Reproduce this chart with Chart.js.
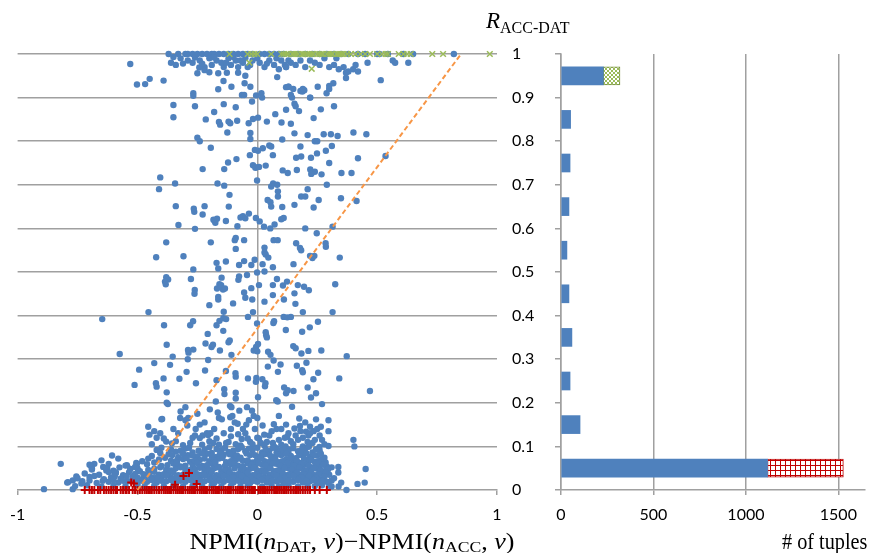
<!DOCTYPE html>
<html>
<head>
<meta charset="utf-8">
<script src="https://cdn.jsdelivr.net/npm/chart.js@4.4.1/dist/chart.umd.min.js"></script>
<style>
  html, body { margin: 0; padding: 0; background: #fff; }
  #wrap { position: relative; width: 870px; height: 553px; overflow: hidden; }
  #scatter { position: absolute; left: 0; top: 0; }
  #bars { position: absolute; left: 545px; top: 0; }
  .ttl { position: absolute; white-space: nowrap; font-family: "Liberation Serif", "DejaVu Serif", serif; color: #000; line-height: 1; }
  .ttl sub { font-size: 0.68em; vertical-align: -0.22em; line-height: 0; }
  .ttl i { font-style: italic; }
</style>
</head>
<body>
<div id="wrap">
  <canvas id="scatter" width="545" height="553"></canvas>
  <canvas id="bars" width="325" height="553"></canvas>
  <div class="ttl" id="xTitle" style="left:352px; top:530px; font-size:23px; transform:translateX(-50%) scaleX(1.13);">NPMI(<i>n</i><sub>DAT</sub>, <i>v</i>)−NPMI(<i>n</i><sub>ACC</sub>, <i>v</i>)</div>
  <div class="ttl" id="cTitle" style="left:782px; top:530px; font-size:23px; transform:scaleX(0.88); transform-origin:0 0;"># of tuples</div>
  <div class="ttl" id="yTitle" style="left:486px; top:9px; font-size:23px;"><i>R</i><sub style="font-size:16px; vertical-align:-5px;">ACC-DAT</sub></div>
</div>
<script>
(function () {
  "use strict";

  // ---- data ----
  var xTicks = [-1, -0.5, 0, 0.5, 1];
  var rTicks = [0, 0.1, 0.2, 0.3, 0.4, 0.5, 0.6, 0.7, 0.8, 0.9, 1];

  // tuples with 0 < R < 1 (blue dots), [npmi diff, R]
  var blueTop = [
    [-0.37,1],[-0.33,1],[-0.3,1],[-0.29,1],[-0.27,1],[-0.25,1],[-0.23,1],[-0.21,1],[-0.19,1],[-0.18,1],[-0.16,1],[-0.14,1],[-0.12,1],[-0.1,1],[-0.08,1],[-0.06,1],[-0.04,1],[-0.02,1],[0.01,1],[0.03,1],[0.05,1],[0.07,1],[0.09,1],[0.11,1],[0.14,1],[0.17,1],[0.2,1],[0.23,1],[0.26,1],[0.29,1],[0.32,1],[0.35,1],[0.38,1],[0.42,1],[0.45,1],[0.5,1],[0.51,1],[0.545,1],[0.61,1],[0.65,1],[0.82,1],
    [-0.36,0.98],[-0.34,0.975],[-0.32,0.99],[-0.29,0.985],[-0.27,0.98],[-0.24,0.985],[-0.22,0.97],[-0.2,0.99],[-0.19,0.975],[-0.17,0.985],[-0.15,0.98],[-0.14,0.97],[-0.12,0.99],[-0.11,0.975],[-0.09,0.985],[-0.08,0.97],[-0.06,0.98],[-0.05,0.99],[-0.03,0.975],[-0.02,0.985],[0.01,0.98],[0.03,0.97],[0.05,0.985],[0.07,0.975],[0.09,0.965],[0.1,0.985],[0.12,0.97],[0.14,0.98],[0.16,0.975],[0.18,0.985],[0.2,0.97],[0.24,0.98],[0.26,0.975],[0.28,0.99],[0.3,0.97],[0.32,0.975],[0.34,0.965],[0.36,0.97],[0.38,0.96],[0.4,0.965],[0.42,0.96],[0.46,0.98],[0.565,0.985],[0.575,0.98],[0.63,0.98],
    [-0.53,0.977],[-0.502,0.93],[-0.468,0.931],[-0.449,0.943],[-0.391,0.939],[-0.25,0.956],[-0.22,0.963],[-0.242,0.969],[-0.2,0.958],[-0.163,0.919],[-0.163,0.956],[-0.141,0.938],[-0.127,0.957],[-0.108,0.925],[-0.08,0.957],[-0.064,0.906],[-0.055,0.906],[-0.053,0.933],[-0.05,0.95],[-0.029,0.925],[-0.005,0.905],[0.017,0.91],[0.02,0.9],[0.083,0.947],[0.12,0.924],[0.13,0.925],[0.14,0.906],[0.188,0.914],[0.196,0.917],[0.221,0.9],[0.252,0.925],[0.289,0.91],[0.3,0.92],[0.317,0.933],[0.37,0.957],[0.37,0.945],[0.515,0.94],[-0.267,0.91],[-0.267,0.904],[0.115,0.975],[0.12,0.97],[0.15,0.92],[0.145,0.9],[0.18,0.915],[0.19,0.92],[0.22,0.9],[0.3,0.927],
    [-0.35,0.993],[-0.31,0.978],[-0.26,0.992],[-0.23,0.978],[-0.18,0.992],[-0.13,0.98],[-0.1,0.993],[-0.07,0.985],[-0.04,0.97],[0.0,0.99],[0.04,0.978],[0.08,0.99],[0.13,0.985],[0.22,0.985],[0.33,0.99],[0.41,0.975]
  ];
  var blueMid = [
    [-0.35,0.883],[-0.35,0.855],[-0.26,0.88],[-0.215,0.85],[-0.18,0.867],[-0.16,0.844],[-0.155,0.838],[-0.14,0.885],[-0.125,0.82],[-0.12,0.845],[-0.113,0.841],[-0.09,0.878],[-0.084,0.847],[-0.036,0.841],[-0.029,0.819],[-0.029,0.805],[-0.022,0.891],[-0.018,0.851],[0.003,0.854],[0.04,0.845],[0.075,0.862],[0.101,0.843],[0.104,0.804],[0.12,0.872],[0.14,0.84],[0.155,0.818],[0.155,0.886],[0.16,0.88],[0.174,0.869],[0.21,0.814],[0.235,0.853],[0.265,0.873],[0.277,0.816],[0.307,0.816],[0.32,0.88],[0.335,0.812],[0.401,0.82],[0.455,0.816],[-0.25,0.808],[-0.24,0.8],[0.24,0.8],[0.25,0.8],[0.13,0.925],
    [-0.194,0.785],[-0.122,0.751],[-0.087,0.759],[-0.031,0.768],[-0.01,0.78],[0.003,0.778],[-0.018,0.745],[-0.003,0.74],[0.023,0.784],[0.035,0.744],[0.05,0.79],[0.058,0.788],[0.065,0.768],[0.162,0.762],[0.18,0.788],[0.183,0.765],[0.224,0.762],[0.249,0.772],[0.286,0.778],[0.3,0.75],[0.311,0.789],[0.42,0.761],[0.535,0.766],[-0.228,0.736],[-0.138,0.736],[-0.008,0.739],[0.007,0.741],[0.106,0.733],[0.127,0.727],[0.165,0.734],[0.221,0.735],[0.24,0.73],[0.225,0.725],[0.268,0.724],[0.351,0.727],[0.393,0.727],[-0.405,0.717],[-0.343,0.703],[-0.166,0.703],[-0.001,0.71],[0.066,0.703],[0.083,0.7],[0.29,0.7],
    [-0.41,0.69],[-0.138,0.698],[0.058,0.696],[0.086,0.685],[0.086,0.673],[0.21,0.69],[-0.116,0.677],[-0.34,0.651],[-0.263,0.638],[-0.265,0.645],[-0.22,0.651],[-0.228,0.632],[-0.178,0.617],[-0.175,0.613],[-0.168,0.622],[-0.183,0.62],[-0.119,0.65],[-0.131,0.617],[-0.06,0.628],[-0.07,0.625],[-0.05,0.623],[-0.035,0.634],[-0.083,0.605],[-0.006,0.624],[0.01,0.616],[0.028,0.604],[0.043,0.665],[0.055,0.66],[0.058,0.65],[0.054,0.6],[0.072,0.609],[0.1,0.621],[0.11,0.624],[0.104,0.649],[0.155,0.654],[0.183,0.673],[0.2,0.673],[0.235,0.648],[0.256,0.665],[0.349,0.669],[0.414,0.663],[0.2,0.6],[0.314,0.604],[-0.329,0.608],[-0.26,0.599],
    [-0.38,0.568],[-0.422,0.534],[-0.308,0.536],[-0.194,0.568],[-0.094,0.573],[-0.09,0.578],[-0.09,0.553],[-0.055,0.573],[0.03,0.556],[0.03,0.545],[0.035,0.54],[0.046,0.533],[0.068,0.573],[0.085,0.573],[0.162,0.566],[0.178,0.555],[0.183,0.55],[0.22,0.537],[0.23,0.532],[0.238,0.537],[0.248,0.589],[0.285,0.566],[0.286,0.558],[0.344,0.533],[-0.17,0.521],[-0.131,0.524],[-0.076,0.516],[-0.055,0.525],[-0.025,0.516],[-0.011,0.528],[0.022,0.518],[0.065,0.511],[0.151,0.518],[-0.163,0.508],[-0.267,0.506],
    [-0.38,0.488],[-0.372,0.483],[-0.385,0.478],[-0.382,0.472],[-0.277,0.484],[-0.261,0.459],[-0.262,0.45],[-0.149,0.487],[-0.168,0.462],[-0.158,0.472],[-0.151,0.47],[-0.143,0.46],[-0.135,0.462],[-0.163,0.443],[-0.163,0.437],[-0.079,0.482],[-0.076,0.49],[-0.043,0.493],[-0.055,0.453],[-0.05,0.441],[-0.025,0.463],[-0.021,0.437],[-0.001,0.499],[0.03,0.501],[0.007,0.47],[0.065,0.47],[0.082,0.484],[0.107,0.469],[0.124,0.478],[0.065,0.447],[0.03,0.432],[0.111,0.437],[0.155,0.451],[0.169,0.47],[0.195,0.466],[0.215,0.458],[0.159,0.427],[0.325,0.472],[-0.2,0.424],[-0.101,0.428],[-0.454,0.408],[-0.14,0.409],[-0.018,0.408],[0.19,0.408],[0.314,0.408]
  ];
  var blueLow = [
    [-0.647,0.392],[-0.389,0.378],[-0.28,0.378],[-0.268,0.387],[-0.17,0.378],[-0.158,0.388],[-0.142,0.394],[-0.13,0.392],[-0.207,0.358],[-0.142,0.365],[-0.12,0.339],[-0.115,0.343],[-0.108,0.31],[-0.156,0.32],[-0.191,0.328],[-0.185,0.333],[-0.216,0.336],[-0.289,0.321],[-0.287,0.315],[-0.267,0.322],[-0.378,0.333],[-0.353,0.306],[-0.574,0.312],[-0.039,0.397],[-0.001,0.382],[-0.015,0.32],[-0.005,0.328],[0.0,0.318],[0.003,0.335],[0.037,0.355],[0.035,0.362],[0.04,0.35],[0.067,0.383],[0.07,0.387],[0.11,0.397],[0.125,0.396],[0.14,0.397],[0.119,0.367],[0.187,0.363],[0.219,0.373],[0.253,0.386],[0.15,0.33],[0.16,0.325],[0.184,0.313],[0.213,0.319],[0.267,0.32],[0.373,0.307],[0.045,0.317],[0.055,0.31],[0.068,0.297],
    [-0.493,0.276],[-0.512,0.241],[-0.43,0.291],[-0.423,0.245],[-0.42,0.237],[-0.391,0.256],[-0.378,0.224],[-0.364,0.287],[-0.325,0.255],[-0.295,0.271],[-0.29,0.3],[-0.256,0.245],[-0.218,0.274],[-0.205,0.298],[-0.17,0.252],[-0.138,0.231],[-0.137,0.22],[-0.131,0.273],[-0.091,0.268],[-0.09,0.26],[-0.09,0.223],[-0.09,0.21],[-0.039,0.256],[-0.004,0.257],[-0.006,0.248],[0.003,0.213],[0.032,0.238],[0.034,0.245],[0.021,0.254],[0.044,0.283],[0.086,0.271],[0.097,0.288],[0.112,0.235],[0.12,0.222],[0.127,0.229],[0.079,0.206],[0.085,0.203],[0.151,0.227],[0.165,0.285],[0.187,0.275],[0.19,0.27],[0.205,0.292],[0.21,0.235],[0.224,0.212],[0.234,0.254],[0.245,0.222],[0.254,0.269],[0.342,0.256],[0.47,0.227],[-0.373,0.197],[-0.114,0.193],[-0.108,0.19],[0.27,0.197],[0.145,0.191],[-0.378,0.2],
    [-0.32,0.18],[-0.322,0.165],[-0.397,0.163],[-0.288,0.165],[-0.292,0.148],[-0.257,0.14],[-0.198,0.185],[-0.173,0.203],[-0.165,0.178],[-0.16,0.165],[-0.148,0.162],[-0.113,0.167],[-0.104,0.17],[-0.094,0.155],[-0.082,0.152],[-0.075,0.182],[-0.043,0.19],[-0.022,0.182],[-0.015,0.17],[0.0,0.165],[-0.046,0.15],[-0.06,0.14],[0.0,0.12],[0.007,0.118],[0.022,0.148],[0.029,0.127],[0.069,0.151],[0.115,0.12],[0.125,0.122],[0.155,0.141],[0.175,0.164],[0.178,0.147],[0.203,0.134],[0.213,0.125],[0.22,0.13],[0.245,0.162],[0.297,0.16],[0.297,0.135],[0.297,0.101],[0.401,0.115],[0.405,0.1],[-0.455,0.145],[-0.45,0.127],[-0.38,0.111],[-0.405,0.13],[-0.356,0.107],[-0.24,0.119],[-0.228,0.125],[-0.205,0.126],[-0.196,0.13],[-0.184,0.108],[-0.08,0.128],[-0.065,0.117],[-0.05,0.13],[-0.3,0.19],[-0.27,0.12],[-0.25,0.175],[-0.22,0.155],[-0.14,0.13],[-0.12,0.11],[-0.03,0.11],[0.04,0.11],[0.06,0.135],[0.09,0.17],[0.1,0.14],[0.14,0.112],[0.16,0.125],[0.23,0.108],[0.27,0.115],[0.25,0.14],[-0.33,0.13],[-0.35,0.14],[-0.42,0.12],[-0.43,0.135],[-0.4,0.162],
    [-0.44,0.105],[-0.39,0.118],[-0.34,0.112],[-0.31,0.103],[-0.28,0.108],[-0.26,0.125],[-0.23,0.104],[-0.2,0.112],[-0.17,0.118],[-0.16,0.104],[-0.13,0.108],[-0.11,0.123],[-0.09,0.105],[-0.07,0.102],[-0.04,0.118],[-0.02,0.105],[0.015,0.108],[0.03,0.102],[0.05,0.125],[0.065,0.108],[0.09,0.115],[0.1,0.104],[0.13,0.13],[0.15,0.105],[0.17,0.115],[0.19,0.12],[0.21,0.11],[0.24,0.115],[0.26,0.125],[0.28,0.105],[0.22,0.145],[0.18,0.135],[0.2,0.155],[0.235,0.135],[0.265,0.145],[0.12,0.15],[0.08,0.14],[-0.01,0.14],[-0.035,0.16],[-0.11,0.14],[-0.18,0.14],[-0.21,0.13],[-0.3,0.16],[-0.24,0.15]
  ];
  var blueFloor = [
    [0.072,0.099],[0.079,0.096],[0.105,0.096],[0.118,0.1],[0.13,0.093],[0.19,0.1],[0.2,0.096],[0.259,0.099],
    [-0.606,0.079],[-0.82,0.06],[-0.68,0.06],[-0.693,0.055],[-0.69,0.05],[-0.793,0.017],[-0.755,0.031],[-0.89,0.002],[-0.77,0.002],[-0.734,0.015],[-0.643,0.053],[-0.626,0.05],[-0.63,0.045],[-0.59,0.04],[-0.595,0.035],[-0.544,0.057],[-0.502,0.06],[-0.5,0.05],[-0.497,0.045],[-0.53,0.048],[0.338,0.053],[0.338,0.04],[0.452,0.048],[0.418,0.014],[0.448,0.017],[0.339,0.008],[0.372,0.0],[0.31,0.052],[0.26,0.06],[0.26,0.04],[0.3,0.01],
    [-0.42,0.092],[-0.34,0.088],[-0.3,0.095],[-0.27,0.086],[-0.22,0.093],[-0.19,0.085],[-0.15,0.091],[-0.12,0.087],[-0.08,0.094],[-0.05,0.089],[-0.02,0.092],[0.02,0.086],[0.05,0.09],[0.08,0.085],[0.11,0.092],[0.13,0.087],[0.17,0.089],[0.2,0.094],[0.23,0.086],[0.26,0.091],
    [-0.44,0.078],[-0.37,0.082],[-0.33,0.075],[-0.29,0.08],[-0.25,0.077],[-0.21,0.083],[-0.17,0.076],[-0.14,0.081],[-0.1,0.078],[-0.07,0.074],[-0.03,0.08],[0.01,0.077],[0.04,0.083],[0.07,0.075],[0.1,0.08],[0.14,0.078],[0.16,0.073],[0.19,0.081],[0.22,0.076],[0.25,0.079],[0.28,0.074],
    [-0.65,0.068],[-0.58,0.072],[-0.48,0.066],[-0.41,0.07],[-0.36,0.067],[-0.31,0.071],[-0.28,0.065],[-0.24,0.069],[-0.2,0.066],[-0.16,0.072],[-0.13,0.064],[-0.09,0.07],[-0.06,0.067],[-0.02,0.063],[0.0,0.071],[0.03,0.066],[0.06,0.069],[0.09,0.064],[0.12,0.07],[0.15,0.066],[0.18,0.062],[0.21,0.068],[0.24,0.065],[0.27,0.07],
    [-0.7,0.058],[-0.62,0.06],[-0.55,0.056],[-0.46,0.059],[-0.4,0.055],[-0.35,0.061],[-0.32,0.054],[-0.27,0.058],[-0.23,0.055],[-0.19,0.06],[-0.16,0.053],[-0.11,0.059],[-0.08,0.056],[-0.04,0.061],[-0.01,0.054],[0.02,0.058],[0.05,0.055],[0.08,0.06],[0.11,0.053],[0.14,0.057],[0.17,0.055],[0.2,0.059],[0.23,0.052],[0.26,0.056],[0.29,0.054],
    [-0.69,0.047],[-0.63,0.05],[-0.6,0.044],[-0.53,0.048],[-0.49,0.043],[-0.43,0.049],[-0.38,0.046],[-0.34,0.05],[-0.3,0.044],[-0.26,0.048],[-0.22,0.045],[-0.18,0.05],[-0.15,0.043],[-0.12,0.047],[-0.07,0.044],[-0.03,0.049],[0.0,0.045],[0.04,0.048],[0.07,0.043],[0.1,0.047],[0.13,0.05],[0.16,0.044],[0.19,0.048],[0.22,0.045],[0.25,0.049],[0.28,0.043],
    [-0.72,0.038],[-0.66,0.035],[-0.59,0.039],[-0.56,0.034],[-0.51,0.037],[-0.45,0.04],[-0.41,0.035],[-0.37,0.038],[-0.33,0.034],[-0.29,0.037],[-0.25,0.036],[-0.21,0.039],[-0.17,0.034],[-0.13,0.038],[-0.1,0.035],[-0.06,0.039],[-0.02,0.034],[0.01,0.037],[0.05,0.035],[0.09,0.039],[0.12,0.034],[0.15,0.037],[0.18,0.035],[0.21,0.038],[0.24,0.034],[0.27,0.037],[0.3,0.035],
    [-0.75,0.027],[-0.7,0.03],[-0.64,0.025],[-0.61,0.029],[-0.57,0.026],[-0.52,0.03],[-0.48,0.025],[-0.44,0.028],[-0.4,0.026],[-0.36,0.029],[-0.32,0.025],[-0.28,0.028],[-0.24,0.026],[-0.2,0.03],[-0.16,0.025],[-0.12,0.028],[-0.08,0.026],[-0.05,0.029],[-0.01,0.025],[0.03,0.028],[0.06,0.026],[0.1,0.029],[0.13,0.025],[0.17,0.028],[0.2,0.026],[0.23,0.029],[0.26,0.025],[0.32,0.027],
    [-0.79,0.018],[-0.73,0.02],[-0.67,0.016],[-0.62,0.019],[-0.58,0.017],[-0.54,0.02],[-0.5,0.016],[-0.46,0.019],[-0.42,0.017],[-0.38,0.02],[-0.34,0.016],[-0.3,0.019],[-0.26,0.017],[-0.22,0.02],[-0.18,0.016],[-0.14,0.019],[-0.1,0.017],[-0.06,0.02],[-0.03,0.016],[0.0,0.019],[0.04,0.017],[0.08,0.02],[0.11,0.016],[0.15,0.019],[0.19,0.017],[0.22,0.02],[0.25,0.016],[0.29,0.019],[0.35,0.017],
    [-0.76,0.009],[-0.71,0.011],[-0.65,0.008],[-0.6,0.01],[-0.55,0.009],[-0.5,0.011],[-0.47,0.008],[-0.43,0.01],[-0.39,0.009],[-0.35,0.011],[-0.31,0.008],[-0.27,0.01],[-0.23,0.009],[-0.19,0.011],[-0.15,0.008],[-0.11,0.01],[-0.07,0.009],[-0.04,0.011],[0.02,0.008],[0.06,0.01],[0.09,0.009],[0.13,0.011],[0.17,0.008],[0.21,0.01],[0.24,0.009],[0.27,0.011],[0.31,0.008]
  ];
  var blueFloorExtra = [
    [-0.4,0.097],[-0.36,0.093],[-0.32,0.09],[-0.285,0.097],[-0.245,0.09],[-0.2,0.098],[-0.17,0.094],[-0.135,0.097],[-0.1,0.09],[-0.065,0.098],[-0.035,0.095],[0.0,0.097],[0.035,0.093],[0.065,0.097],[0.095,0.09],[0.15,0.096],[0.185,0.092],[0.215,0.099],[0.245,0.093],
    [-0.405,0.085],[-0.355,0.08],[-0.31,0.084],[-0.27,0.079],[-0.23,0.084],[-0.19,0.078],[-0.155,0.084],[-0.115,0.082],[-0.085,0.079],[-0.045,0.084],[-0.01,0.08],[0.025,0.081],[0.055,0.078],[0.085,0.082],[0.12,0.083],[0.175,0.08],[0.205,0.084],[0.235,0.08],[0.265,0.083],
    [-0.455,0.072],[-0.385,0.074],[-0.335,0.068],[-0.295,0.073],[-0.26,0.067],[-0.22,0.072],[-0.18,0.068],[-0.145,0.074],[-0.11,0.066],[-0.075,0.072],[-0.04,0.068],[-0.005,0.065],[0.015,0.073],[0.045,0.064],[0.075,0.071],[0.105,0.066],[0.135,0.072],[0.165,0.067],[0.195,0.072],[0.225,0.069],[0.255,0.066],[0.285,0.063],
    [-0.505,0.062],[-0.43,0.063],[-0.375,0.057],[-0.335,0.062],[-0.3,0.056],[-0.25,0.062],[-0.21,0.057],[-0.175,0.063],[-0.135,0.055],[-0.095,0.061],[-0.06,0.054],[-0.025,0.058],[0.005,0.062],[0.035,0.056],[0.065,0.061],[0.095,0.056],[0.125,0.062],[0.155,0.055],[0.185,0.061],[0.215,0.056],[0.245,0.061],[0.275,0.058],
    [-0.575,0.052],[-0.51,0.053],[-0.455,0.046],[-0.405,0.052],[-0.36,0.045],[-0.32,0.052],[-0.28,0.046],[-0.24,0.051],[-0.2,0.046],[-0.165,0.052],[-0.135,0.045],[-0.095,0.05],[-0.05,0.046],[-0.015,0.051],[0.02,0.044],[0.055,0.05],[0.085,0.045],[0.115,0.051],[0.145,0.046],[0.175,0.051],[0.205,0.044],[0.235,0.05],[0.265,0.045],[0.295,0.047],
    [-0.62,0.041],[-0.535,0.041],[-0.475,0.036],[-0.43,0.042],[-0.39,0.036],[-0.35,0.041],[-0.31,0.035],[-0.27,0.04],[-0.23,0.035],[-0.19,0.041],[-0.15,0.036],[-0.115,0.041],[-0.08,0.036],[-0.04,0.04],[-0.005,0.036],[0.03,0.041],[0.07,0.036],[0.105,0.041],[0.135,0.036],[0.165,0.041],[0.195,0.036],[0.225,0.041],[0.255,0.036],[0.285,0.04],
    [-0.68,0.032],[-0.595,0.031],[-0.545,0.032],[-0.5,0.028],[-0.46,0.032],[-0.42,0.029],[-0.38,0.033],[-0.34,0.028],[-0.3,0.032],[-0.26,0.029],[-0.22,0.033],[-0.18,0.028],[-0.14,0.032],[-0.1,0.029],[-0.065,0.032],[-0.03,0.028],[0.01,0.031],[0.045,0.027],[0.08,0.032],[0.115,0.028],[0.15,0.032],[0.185,0.028],[0.215,0.032],[0.245,0.028],[0.28,0.031],
    [-0.77,0.022],[-0.7,0.022],[-0.645,0.021],[-0.6,0.023],[-0.56,0.021],[-0.52,0.023],[-0.48,0.021],[-0.44,0.023],[-0.4,0.021],[-0.36,0.023],[-0.32,0.021],[-0.28,0.023],[-0.24,0.021],[-0.2,0.023],[-0.16,0.021],[-0.12,0.023],[-0.08,0.021],[-0.045,0.023],[-0.015,0.021],[0.02,0.023],[0.06,0.021],[0.095,0.023],[0.13,0.021],[0.17,0.023],[0.205,0.021],[0.235,0.023],[0.27,0.021],[0.31,0.022]
  ];

  // R = 1 tuples (green x) and R = 0 tuples (red +)
  var greenPts = [
    [-0.116,1],[-0.04,1],[-0.025,1],[-0.012,1],[0.0,1],[0.058,1],[0.1,1],[0.12,1],[0.13,1],[0.145,1],[0.16,1],[0.17,1],[0.185,1],[0.2,1],[0.21,1],[0.22,1],[0.235,1],[0.25,1],[0.26,1],[0.275,1],[0.29,1],[0.3,1],[0.315,1],[0.33,1],[0.345,1],[0.36,1],[0.375,1],[0.39,1],[0.41,1],[0.43,1],[0.45,1],[0.47,1],[0.5,1],[0.52,1],[0.535,1],[0.545,1],[0.59,1],[0.61,1],[0.625,1],[0.64,1],[0.73,1],[0.775,1],[0.97,1],
    [0.11,1],[0.153,1],[0.192,1],[0.228,1],[0.268,1],[0.308,1],[0.338,1],[0.352,1],
    [0.227,0.966],[-0.033,0.98]
  ];
  var redPts = [
    [-0.72,0],[-0.7,0],[-0.68,0],[-0.665,0],[-0.64,0],[-0.62,0],[-0.6,0],[-0.585,0],[-0.57,0],[-0.55,0],[-0.535,0],[-0.52,0],[-0.5,0],[-0.49,0],[-0.47,0],[-0.455,0],[-0.44,0],[-0.42,0],[-0.41,0],[-0.39,0],[-0.375,0],[-0.36,0],[-0.34,0],[-0.325,0],[-0.31,0],[-0.29,0],[-0.275,0],[-0.26,0],[-0.24,0],[-0.225,0],[-0.21,0],[-0.19,0],[-0.175,0],[-0.16,0],[-0.14,0],[-0.125,0],[-0.11,0],[-0.09,0],[-0.075,0],[-0.06,0],[-0.04,0],[-0.025,0],[-0.01,0],[0.005,0],[0.02,0],[0.035,0],[0.05,0],[0.07,0],[0.085,0],[0.1,0],[0.115,0],[0.13,0],[0.15,0],[0.165,0],[0.18,0],[0.2,0],[0.22,0],[0.26,0],[0.29,0],
    [-0.69,0],[-0.655,0],[-0.63,0],[-0.61,0],[-0.59,0],[-0.56,0],[-0.545,0],[-0.51,0],[-0.48,0],[-0.462,0],[-0.448,0],[-0.43,0],[-0.4,0],[-0.382,0],[-0.368,0],[-0.35,0],[-0.332,0],[-0.318,0],[-0.3,0],[-0.282,0],[-0.268,0],[-0.25,0],[-0.232,0],[-0.218,0],[-0.2,0],[-0.182,0],[-0.168,0],[-0.15,0],[-0.132,0],[-0.118,0],[-0.1,0],[-0.082,0],[-0.068,0],[-0.05,0],[-0.032,0],[-0.018,0],[0.012,0],[0.028,0],[0.042,0],[0.06,0],[0.078,0],[0.092,0],[0.108,0],[0.122,0],[0.14,0],[0.158,0],[0.172,0],[0.19,0],[0.21,0],[0.24,0],
    [-0.526,0.017],[-0.515,0.015],[-0.308,0.032],[-0.285,0.039],[-0.343,0.012],[-0.253,0.014]
  ];

  // dashed orange guide
  var fitX = [-0.5, 0.85];
  var fitY = [0, 1];

  // histogram of R (right panel)
  var binCenters = [0.05, 0.15, 0.25, 0.35, 0.45, 0.55, 0.65, 0.75, 0.85, 0.95];
  var binBlue = [1117, 103, 49, 59, 43, 32, 43, 49, 52, 229];
  var binRed = [410, 0, 0, 0, 0, 0, 0, 0, 0, 0];
  var binGreen = [0, 0, 0, 0, 0, 0, 0, 0, 0, 90];
  var countTicks = [0, 500, 1000, 1500];

  // ---- helpers ----
  var GRID = "#a0a0a0";
  var BLUE = "#4f81bd";
  var TICK_FONT = { family: "Lato, 'Open Sans', sans-serif", size: 16 };

  function toXY(list) {
    return list.map(function (p) { return { x: p[0], y: p[1] }; });
  }

  function checkerPattern() {
    var c = document.createElement("canvas");
    c.width = 4; c.height = 4;
    var g = c.getContext("2d");
    g.fillStyle = "#fff"; g.fillRect(0, 0, 4, 4);
    g.fillStyle = "#9bbb59";
    g.fillRect(0, 0, 2, 2); g.fillRect(2, 2, 2, 2);
    return g.createPattern(c, "repeat");
  }

  function gridPattern() {
    var c = document.createElement("canvas");
    c.width = 5; c.height = 5;
    var g = c.getContext("2d");
    g.fillStyle = "#fff"; g.fillRect(0, 0, 5, 5);
    g.fillStyle = "#c00000";
    g.fillRect(0, 0, 5, 1); g.fillRect(0, 0, 1, 5);
    return g.createPattern(c, "repeat");
  }

  Chart.defaults.font.family = TICK_FONT.family;
  Chart.defaults.color = "#000";

  // ---- left: scatter ----
  new Chart(document.getElementById("scatter"), {
    type: "scatter",
    data: {
      datasets: [
        {
          type: "line",
          data: [{ x: fitX[0], y: fitY[0] }, { x: fitX[1], y: fitY[1] }],
          borderColor: "#f79646",
          borderWidth: 2,
          borderDash: [5, 3],
          pointRadius: 0,
          fill: false,
          clip: false
        },
        {
          data: toXY(redPts),
          pointStyle: "cross",
          pointRadius: 4,
          borderColor: "#c00000",
          pointBorderWidth: 2,
          clip: false
        },
        {
          data: toXY(greenPts),
          pointStyle: "crossRot",
          pointRadius: 4,
          borderColor: "#9bbb59",
          pointBorderWidth: 1.5,
          clip: false
        },
        {
          data: toXY(blueTop.concat(blueMid, blueLow, blueFloor, blueFloorExtra)),
          pointRadius: 3.2,
          pointBorderWidth: 0,
          backgroundColor: BLUE,
          borderColor: BLUE,
          clip: false
        }
      ]
    },
    options: {
      responsive: false,
      animation: false,
      layout: { padding: { left: 15, top: 54, right: 0, bottom: 0 } },
      plugins: { legend: { display: false }, tooltip: { enabled: false } },
      scales: {
        x: {
          type: "linear",
          min: -1,
          max: 1,
          afterBuildTicks: function (s) {
            s.ticks = xTicks.map(function (v) { return { value: v }; });
          },
          afterFit: function (s) { s.height = 63; },
          ticks: {
            font: TICK_FONT,
            padding: 10,
            maxRotation: 0,
            callback: function (v) { return String(v); }
          },
          grid: {
            color: function (c) { return c.tick && c.tick.value === 0 ? GRID : "rgba(0,0,0,0)"; },
            tickColor: GRID,
            tickLength: 5,
            lineWidth: 1.5
          },
          border: { display: true, color: GRID, width: 1.5 }
        },
        y: {
          type: "linear",
          position: "right",
          min: 0,
          max: 1,
          afterBuildTicks: function (s) {
            s.ticks = rTicks.map(function (v) { return { value: v }; });
          },
          afterFit: function (s) { s.width = 48; },
          ticks: {
            font: TICK_FONT,
            padding: 15,
            callback: function (v) { return String(Number(v.toFixed(1))); }
          },
          grid: {
            color: function (c) { return c.tick && c.tick.value > 0 ? GRID : "rgba(0,0,0,0)"; },
            drawTicks: false,
            lineWidth: 1.5
          },
          border: { display: false }
        }
      }
    }
  });

  // ---- right: histogram ----
  var checker = checkerPattern();
  var hatch = gridPattern();

  function bars(values) {
    return values.map(function (v, i) { return { x: v, y: binCenters[i] }; });
  }

  new Chart(document.getElementById("bars"), {
    type: "bar",
    data: {
      datasets: [
        { data: bars(binBlue), backgroundColor: BLUE, borderWidth: 0, barThickness: 18 },
        { data: bars(binRed), backgroundColor: hatch, borderColor: "#c00000", borderWidth: 1, borderSkipped: false, barThickness: 18 },
        { data: bars(binGreen), backgroundColor: checker, borderColor: "#77933c", borderWidth: 1, borderSkipped: false, barThickness: 18 }
      ]
    },
    options: {
      indexAxis: "y",
      responsive: false,
      animation: false,
      layout: { padding: { left: 10, top: 54, right: 5, bottom: 0 } },
      plugins: { legend: { display: false }, tooltip: { enabled: false } },
      scales: {
        x: {
          type: "linear",
          stacked: true,
          min: 0,
          max: 1644,
          afterBuildTicks: function (s) {
            s.ticks = countTicks.map(function (v) { return { value: v }; });
          },
          afterFit: function (s) { s.height = 63; },
          ticks: {
            font: TICK_FONT,
            padding: 10,
            maxRotation: 0,
            callback: function (v) { return String(v); }
          },
          grid: { color: GRID, tickColor: GRID, tickLength: 5, lineWidth: 1.5 },
          border: { display: true, color: GRID, width: 1.5 }
        },
        y: {
          type: "linear",
          stacked: true,
          offset: false,
          min: 0,
          max: 1,
          afterBuildTicks: function (s) {
            s.ticks = rTicks.map(function (v) { return { value: v }; });
          },
          afterFit: function (s) { s.width = 6; },
          ticks: { display: false },
          grid: { offset: false, drawOnChartArea: false, tickColor: GRID, tickLength: 6, lineWidth: 1.5 },
          border: { display: true, color: GRID, width: 1.5 }
        }
      }
    }
  });
})();
</script>
</body>
</html>
